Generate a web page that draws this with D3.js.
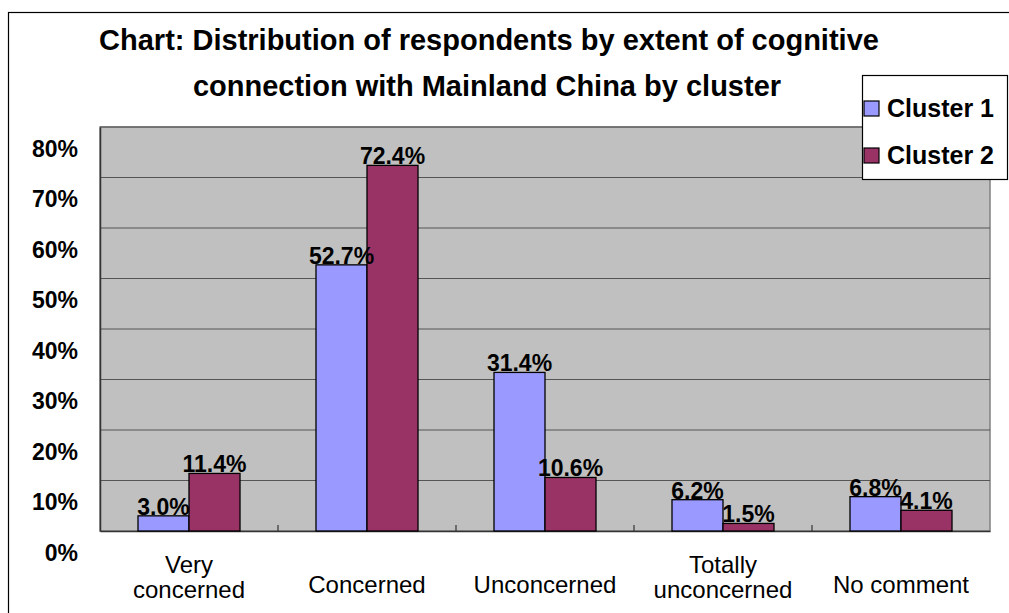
<!DOCTYPE html>
<html>
<head>
<meta charset="utf-8">
<script src="https://cdn.jsdelivr.net/npm/d3@7"></script>
<style>
  body { margin: 0; background: #fff; }
  svg { display: block; font-family: "Liberation Sans", Arial, sans-serif; }
</style>
</head>
<body>
<div id="chart"></div>
<script>
// Data
const categories = [["Very", "concerned"], ["Concerned"], ["Unconcerned"], ["Totally", "unconcerned"], ["No comment"]];
const seriesNames = ["Cluster 1", "Cluster 2"];
const cluster1 = [3.0, 52.7, 31.4, 6.2, 6.8];
const cluster2 = [11.4, 72.4, 10.6, 1.5, 4.1];
const yTicks = [0, 10, 20, 30, 40, 50, 60, 70, 80];
const colors = ["#9999FF", "#993366"];

const width = 1009, height = 613;
const margin = { top: 127, right: 19, bottom: 82, left: 100 };

const svg = d3.select("#chart").append("svg")
  .attr("width", width)
  .attr("height", height);

// Chart area border (right/bottom run off the page)
svg.append("rect")
  .attr("x", 8.5).attr("y", 12.5)
  .attr("width", width + 10).attr("height", height + 10)
  .attr("fill", "#fff")
  .attr("stroke", "#000")
  .attr("stroke-width", 1.2);

const x0 = d3.scaleBand()
  .domain(d3.range(categories.length))
  .range([margin.left, width - margin.right]);

const x1 = d3.scaleBand()
  .domain(seriesNames)
  .range([0, x0.bandwidth()])
  .paddingInner(0)
  .paddingOuter(0.745);

const y = d3.scaleLinear()
  .domain([0, 80])
  .range([height - margin.bottom, margin.top]);

// Plot background
svg.append("rect")
  .attr("x", margin.left)
  .attr("y", margin.top)
  .attr("width", width - margin.left - margin.right)
  .attr("height", y(0) - y(80))
  .attr("fill", "#C0C0C0")
  .attr("stroke", "#808080")
  .attr("stroke-width", 1.5);

// Gridlines
svg.append("g")
  .selectAll("line")
  .data(yTicks.slice(1))
  .join("line")
    .attr("x1", margin.left)
    .attr("x2", width - margin.right)
    .attr("y1", d => y(d))
    .attr("y2", d => y(d))
    .attr("stroke", "#555")
    .attr("stroke-width", 1.2);

// Y axis
const yAxis = svg.append("g")
  .attr("transform", `translate(${margin.left},0)`)
  .call(d3.axisLeft(y).tickValues(yTicks).tickSize(0).tickFormat(d => d + "%"))
  .call(g => g.select(".domain").attr("stroke", "#333").attr("stroke-width", 1.5));

yAxis.selectAll(".tick text")
  .attr("x", -22)
  .attr("y", 29)
  .attr("dy", 0)
  .attr("font-family", "Liberation Sans, Arial, sans-serif")
  .attr("font-size", 23)
  .attr("font-weight", "bold")
  .attr("fill", "#000");

// X axis
svg.append("g")
  .attr("transform", `translate(0,${y(0)})`)
  .call(d3.axisBottom(x0).tickSize(0).tickFormat(""))
  .call(g => g.select(".domain").attr("stroke", "#333").attr("stroke-width", 1.5));

// tick marks at category boundaries
svg.append("g")
  .selectAll("line")
  .data(d3.range(1, categories.length))
  .join("line")
    .attr("x1", d => x0(d))
    .attr("x2", d => x0(d))
    .attr("y1", y(0))
    .attr("y2", y(0) - 6)
    .attr("stroke", "#333")
    .attr("stroke-width", 1.2);

// Category labels
const catLabels = svg.append("g")
  .selectAll("text")
  .data(categories)
  .join("text")
    .attr("x", (d, i) => x0(i) + x0.bandwidth() / 2)
    .attr("y", d => d.length > 1 ? 573 : 593)
    .attr("text-anchor", "middle")
    .attr("font-size", 24)
    .attr("fill", "#000");

catLabels.selectAll("tspan")
  .data(d => d)
  .join("tspan")
    .attr("x", function () { return this.parentNode.getAttribute("x"); })
    .attr("dy", (d, i) => i === 0 ? 0 : 25)
    .text(d => d);

// Bars
const rows = categories.map((c, i) => [
  { key: seriesNames[0], value: cluster1[i] },
  { key: seriesNames[1], value: cluster2[i] }
]);

const groups = svg.append("g")
  .selectAll("g")
  .data(rows)
  .join("g")
    .attr("transform", (d, i) => `translate(${x0(i)},0)`);

groups.selectAll("rect")
  .data(d => d)
  .join("rect")
    .attr("x", d => x1(d.key))
    .attr("y", d => y(d.value))
    .attr("width", x1.bandwidth())
    .attr("height", d => y(0) - y(d.value))
    .attr("fill", (d, j) => colors[j])
    .attr("stroke", "#000")
    .attr("stroke-width", 1.3);

groups.selectAll("text")
  .data(d => d)
  .join("text")
    .attr("x", d => x1(d.key) + x1.bandwidth() / 2)
    .attr("y", d => y(d.value) - 1)
    .attr("text-anchor", "middle")
    .attr("font-size", 23)
    .attr("font-weight", "bold")
    .attr("fill", "#000")
    .text(d => d.value.toFixed(1) + "%");

// Title
const title = svg.append("text")
  .attr("x", 489)
  .attr("y", 50)
  .attr("text-anchor", "middle")
  .attr("font-size", 29)
  .attr("font-weight", "bold")
  .attr("fill", "#000");
title.append("tspan").attr("x", 489).text("Chart: Distribution of respondents by extent of cognitive");
title.append("tspan").attr("x", 487).attr("dy", 46).text("connection with Mainland China by cluster");

// Legend
const legend = svg.append("g").attr("transform", "translate(862,75)");
legend.append("rect")
  .attr("x", 0.5).attr("y", 0.5)
  .attr("width", 145).attr("height", 104)
  .attr("fill", "#fff")
  .attr("stroke", "#000")
  .attr("stroke-width", 1.2);

const items = legend.selectAll("g.item")
  .data(seriesNames)
  .join("g")
    .attr("class", "item")
    .attr("transform", (d, i) => `translate(0,${33 + i * 47})`);

items.append("rect")
  .attr("x", 2).attr("y", -7)
  .attr("width", 15).attr("height", 15)
  .attr("fill", (d, i) => colors[i])
  .attr("stroke", "#000")
  .attr("stroke-width", 1.2);

items.append("text")
  .attr("x", 25)
  .attr("y", 9)
  .attr("font-size", 25)
  .attr("font-weight", "bold")
  .attr("fill", "#000")
  .text(d => d);
</script>
</body>
</html>
